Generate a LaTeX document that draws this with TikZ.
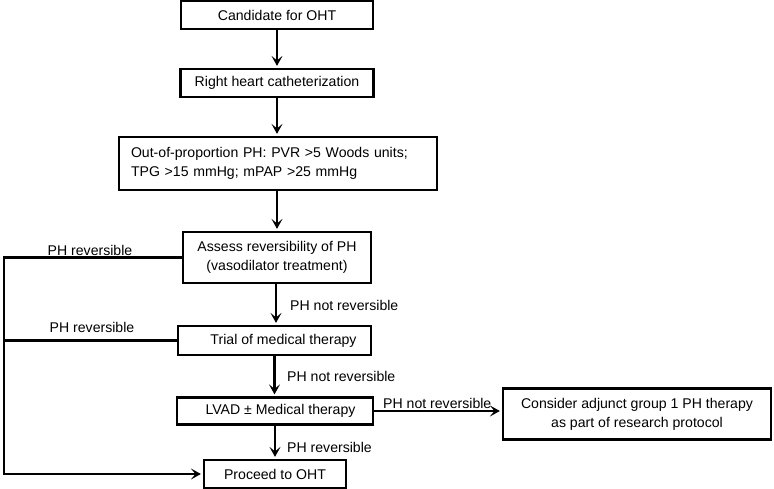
\documentclass[tikz,border=0pt]{standalone}
\usepackage{fontspec}
\setmainfont{Liberation Sans}
\usetikzlibrary{arrows.meta}
\begin{document}
\begin{tikzpicture}[x=1pt,y=-1pt,
  every node/.style={font=\fontsize{14.1}{19}\selectfont},
  box/.style={draw, line width=2.2pt, inner sep=0pt, align=center},
  lbl/.style={inner sep=0pt},
  conn/.style={line width=2.2pt},
  arr/.style={conn, -{Stealth[length=10pt,width=11pt,inset=4.5pt]}, shorten >=2pt}]
\useasboundingbox (0,0) rectangle (774,489);

\node[box, minimum width=192pt, minimum height=28pt] (cand) at (277,15) {Candidate for OHT};
\node[box, minimum width=193pt, minimum height=28pt] (rhc) at (277,83) {Right heart catheterization};
\node[box, minimum width=318pt, minimum height=53pt, text width=294pt, align=left] (oop) at (278,163.5)
  {Out-of-proportion PH: PVR >5 Woods units;\\TPG >15 mmHg; mPAP >25 mmHg};
\node[box, minimum width=188pt, minimum height=51pt] (assess) at (277,257.5)
  {Assess reversibility of PH\\(vasodilator treatment)};
\node[box, minimum width=193pt, minimum height=29pt] (trial) at (274.5,340.5) {};
\node[lbl] (trialtxt) at (283.5,340.5) {Trial of medical therapy};
\node[box, minimum width=196pt, minimum height=27pt] (lvad) at (275,411) {};
\node[lbl] (lvadtxt) at (280.5,411) {LVAD ± Medical therapy};
\node[box, minimum width=142pt, minimum height=28pt] (oht) at (275,474) {Proceed to OHT};
\node[box, minimum width=268pt, minimum height=51pt] (consider) at (637,414)
  {Consider adjunct group 1 PH therapy\\as part of research protocol};

\draw[arr] (cand.south) -- (cand.south |- rhc.north);
\draw[arr] (rhc.south) -- (rhc.south |- oop.north);
\draw[arr] (oop.south -| assess.north) -- (assess.north);
\draw[arr] ([xshift=-1pt]assess.south) -- ([xshift=-1pt]assess.south |- trial.north);
\draw[arr] (trial.south) -- (trial.south |- lvad.north);
\draw[arr] (lvad.south) -- (lvad.south |- oht.north);
\draw[arr] (lvad.east) -- (lvad.east -| consider.west);

\coordinate (lt) at (4,257.5);
\draw[arr] (assess.west) -- (assess.west -| lt) -- (lt |- oht.west) -- (oht.west);
\draw[conn] (trial.west) -- (trial.west -| lt);

\node[lbl] (l1) at (90,250) {PH reversible};
\node[lbl] (l2) at (92,327) {PH reversible};
\node[lbl, anchor=west] (l3) at (290,305) {PH not reversible};
\node[lbl, anchor=west] (l4) at (287,376) {PH not reversible};
\node[lbl, anchor=west] (l5) at (287,447) {PH reversible};
\node[lbl, anchor=west] (l6) at (383,403) {PH not reversible};
\end{tikzpicture}
\end{document}
